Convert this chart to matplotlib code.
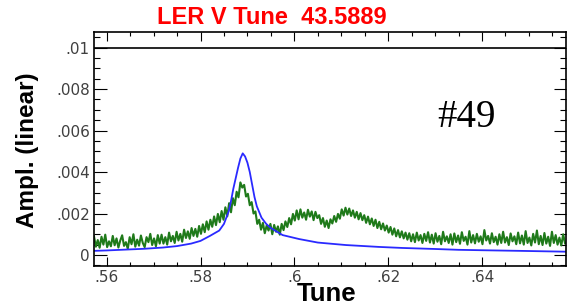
import matplotlib.pyplot as plt
import numpy as np
from matplotlib.ticker import MultipleLocator, FixedLocator

# blue trace: smooth resonance fit
fit_tune = [0.5573, 0.560, 0.564, 0.568, 0.572, 0.575, 0.578, 0.580, 0.582, 0.584,
            0.585, 0.586, 0.5865, 0.587, 0.5875, 0.588, 0.5885, 0.589, 0.5895, 0.590,
            0.5905, 0.591, 0.5915, 0.592, 0.593, 0.594, 0.595, 0.5975, 0.601, 0.605,
            0.611, 0.618, 0.623, 0.630, 0.635, 0.640, 0.648, 0.6579]
fit_ampl = [0.20, 0.22, 0.26, 0.30, 0.36, 0.43, 0.55, 0.68, 0.92, 1.18,
            1.50, 2.10, 2.60, 3.20, 3.70, 4.20, 4.65, 4.90, 4.75, 4.45,
            4.00, 3.40, 2.80, 2.35, 1.80, 1.50, 1.30, 0.96, 0.77, 0.60,
            0.48, 0.39, 0.34, 0.29, 0.25, 0.23, 0.20, 0.16]

# green trace: measured spectrum (x 1e-3), from tune 0.5573 to 0.6577
meas_start, meas_stop = 0.5573, 0.6577
meas_ampl = [
    0.90, 0.40, 0.72, 0.35, 0.88, 0.50, 0.98, 0.38, 0.66, 0.42, 0.92, 0.47,
    0.80, 0.36, 0.70, 0.95, 0.44, 0.62, 0.30, 0.86, 0.52, 1.00, 0.40, 0.74,
    0.45, 0.94, 0.58, 0.38, 0.86, 0.62, 1.02, 0.48, 0.80, 0.42, 0.96, 0.55,
    0.98, 0.55, 0.86, 0.50, 1.08, 0.66, 0.92, 0.58, 1.12, 0.70, 1.02, 0.64,
    1.22, 0.82, 1.14, 0.78, 1.30, 0.92, 1.26, 0.88, 1.40, 1.02, 1.48, 1.10,
    1.62, 1.22, 1.70, 1.36, 1.86, 1.44, 1.98, 1.58, 2.12, 1.70, 2.30, 1.86,
    2.50, 2.06, 2.74, 2.40, 3.05, 2.78, 3.50, 3.25, 3.38, 2.82, 2.95, 2.40,
    2.55, 2.00, 2.10, 1.50, 1.70, 1.22, 1.55, 1.05, 1.42, 1.18, 1.50, 1.00,
    1.45, 1.12, 1.38, 0.98, 1.50, 1.20, 1.62, 1.35, 1.78, 1.48, 1.98, 1.66,
    2.15, 1.72, 2.20, 1.80, 2.05, 1.70, 2.18, 1.85, 2.10, 1.68, 2.08, 1.78,
    1.92, 1.50, 1.78, 1.36, 1.66, 1.30, 1.72, 1.52, 1.88, 1.60, 1.98, 1.75,
    2.20, 1.90, 2.28, 1.95, 2.24, 1.88, 2.15, 1.80, 2.08, 1.72, 2.02, 1.68,
    1.92, 1.55, 1.85, 1.48, 1.76, 1.40, 1.70, 1.30, 1.60, 1.24, 1.52, 1.18,
    1.42, 1.08, 1.35, 0.98, 1.28, 0.90, 1.20, 0.85, 1.14, 0.80, 1.08, 0.74,
    1.05, 0.66, 1.00, 0.62, 1.08, 0.70, 0.96, 0.58, 1.02, 0.68, 1.10, 0.60,
    0.98, 0.55, 1.05, 0.64, 0.92, 0.52, 1.12, 0.66, 0.90, 0.58, 1.00, 0.50,
    1.04, 0.62, 0.94, 0.54, 1.10, 0.68, 0.88, 0.50, 1.15, 0.60, 0.96, 0.56,
    1.02, 0.64, 0.90, 0.52, 1.20, 0.70, 0.92, 0.55, 1.05, 0.62, 0.88, 0.50,
    1.00, 0.58, 1.12, 0.60, 0.86, 0.48, 1.04, 0.66, 0.90, 0.52, 1.08, 0.56,
    0.94, 0.50, 1.15, 0.58, 0.84, 0.46, 1.02, 0.60, 1.18, 0.52, 0.92, 0.48,
    1.06, 0.55, 0.88, 0.44, 1.12, 0.58, 0.96, 0.50, 0.84, 0.46, 1.00, 0.56,
]

x_ticks = [0.56, 0.58, 0.60, 0.62, 0.64]
x_tick_labels = [".56", ".58", ".6", ".62", ".64"]
y_ticks = [0, 0.002, 0.004, 0.006, 0.008, 0.01]
y_tick_labels = ["0", ".002", ".004", ".006", ".008", ".01"]
ref_level = 0.01

title = "LER V Tune  43.5889"
run_label = "#49"

plt.rcParams["font.family"] = ["Liberation Sans", "DejaVu Sans"]

fig = plt.figure(figsize=(5.69, 3.06), dpi=100)
ax = fig.add_axes([94 / 569, 1 - 266 / 306, 472 / 569, 234 / 306])

meas_tune = np.linspace(meas_start, meas_stop, len(meas_ampl))
ax.plot(meas_tune, np.array(meas_ampl) * 1e-3, color="#1f7a1a", lw=1.5)
ax.plot(fit_tune, np.array(fit_ampl) * 1e-3, color="#2a2aff", lw=1.3)
ax.axhline(ref_level, color="black", lw=1.2)

ax.set_xlim(0.5573, 0.6579)
ax.set_ylim(-0.00053, 0.01075)

ax.xaxis.set_major_locator(FixedLocator(x_ticks))
ax.set_xticklabels(x_tick_labels, family=["DejaVu Sans"])
ax.xaxis.set_minor_locator(MultipleLocator(0.005))
ax.yaxis.set_major_locator(FixedLocator(y_ticks))
ax.set_yticklabels(y_tick_labels, family=["DejaVu Sans"])
ax.yaxis.set_minor_locator(MultipleLocator(0.0005))

ax.tick_params(axis="both", which="both", direction="in", top=True, right=True,
               width=0.8, labelsize=11, labelcolor="#404040")
ax.tick_params(axis="y", which="major", length=9, pad=3)
ax.tick_params(axis="y", which="minor", length=4)
ax.tick_params(axis="x", which="major", length=6.5, pad=3)
ax.tick_params(axis="x", which="minor", length=3)
for s in ax.spines.values():
    s.set_linewidth(1.2)

fig.text(327 / 569, 1 - 301 / 306, "Tune", fontsize=18.5, fontweight="bold",
         ha="center", va="baseline")
fig.text(28 / 569, 1 - 150 / 306, "Ampl. (linear)", fontsize=17.5,
         fontweight="bold", rotation=90, ha="center", va="center")

fig.text(272 / 569, 1 - 17 / 306, title, color="red", fontsize=17,
         fontweight="bold", ha="center", va="center")
ax.text(0.6366, 0.00665, run_label, family=["Liberation Serif", "DejaVu Serif"],
        fontsize=28, ha="center", va="center")

fig.savefig("out.png", dpi=100)
